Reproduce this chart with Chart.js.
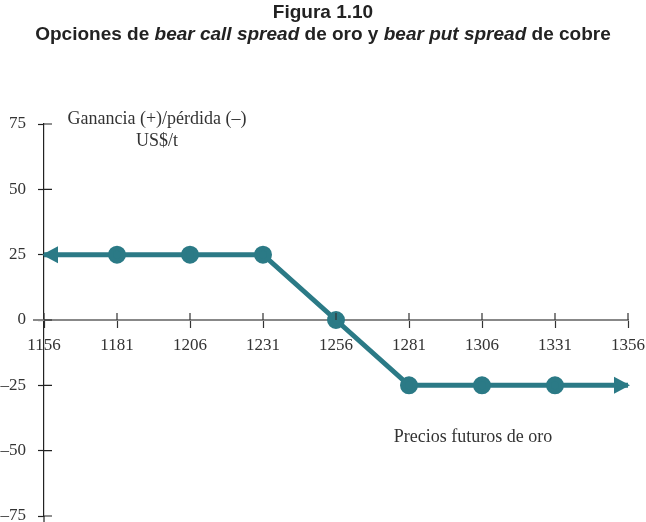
<!DOCTYPE html>
<html lang="es">
<head>
    <meta charset="UTF-8">
    <title>Figura 1.10</title>
    <script src="https://cdn.jsdelivr.net/npm/chart.js"></script>
    <style>
        body { margin: 0; background: #fff; }
        .wrap { position: relative; width: 646px; height: 522px; }
        .titulo { position: absolute; left: 0; width: 646px; text-align: center; font-family: "Liberation Sans", Arial, sans-serif; font-weight: bold; color: #222; font-size: 19px; line-height: 22px; }
        #t1 { top: 1px; }
        #t2 { top: 23px; }
        .etq { position: absolute; font-family: "Liberation Serif", "Times New Roman", serif; font-size: 18px; color: #333; text-align: center; line-height: 22px; }
        canvas { position: absolute; left: 0; top: 0; }
    </style>
</head>
<body>
<div class="wrap">
    <canvas id="grafico" width="646" height="522"></canvas>
    <div class="titulo" id="t1">Figura 1.10</div>
    <div class="titulo" id="t2">Opciones de <i>bear call spread</i> de oro y <i>bear put spread</i> de cobre</div>
    <div class="etq" style="left:47px; top:107px; width:220px;">Ganancia (+)/pérdida (–)<br>US$/t</div>
    <div class="etq" style="left:363px; top:425px; width:220px;">Precios futuros de oro</div>
</div>
<script>
    const precios = [1156, 1181, 1206, 1231, 1256, 1281, 1306, 1331, 1356];
    const ganancia = [25, 25, 25, 25, 0, -25, -25, -25, -25];
    const ticksY = [-75, -50, -25, 0, 25, 50, 75];

    const color = '#2b7a86';
    const serif = '"Liberation Serif", "Times New Roman", serif';

    // flechas en los extremos y marcas que cruzan los ejes
    const ejes = {
        id: 'ejes',
        afterDatasetsDraw(chart) {
            const c = chart.ctx;
            const x = chart.scales.x, y = chart.scales.y;
            const y0 = y.getPixelForValue(0);
            c.save();
            c.strokeStyle = '#888';
            c.lineWidth = 2;
            c.beginPath();
            c.moveTo(x.left - 11, y0);
            c.lineTo(x.left, y0);
            c.stroke();
            c.strokeStyle = '#222';
            c.lineWidth = 1.2;
            c.beginPath();
            c.moveTo(x.left, y.bottom);
            c.lineTo(x.left, 522);
            ticksY.forEach(v => {
                const p = y.getPixelForValue(v);
                c.moveTo(x.left, p);
                c.lineTo(x.left + 8, p);
            });
            c.stroke();
            c.strokeStyle = '#333';
            c.beginPath();
            precios.forEach(v => {
                const p = x.getPixelForValue(v);
                c.moveTo(p, y0);
                c.lineTo(p, y0 - 7);
            });
            c.stroke();

            const pts = chart.getDatasetMeta(0).data;
            const flecha = (pt, dir) => {
                c.beginPath();
                c.moveTo(pt.x + dir * 2, pt.y);
                c.lineTo(pt.x - dir * 14, pt.y - 8.5);
                c.lineTo(pt.x - dir * 14, pt.y + 8.5);
                c.closePath();
                c.fill();
            };
            c.fillStyle = color;
            flecha(pts[0], -1);
            flecha(pts[pts.length - 1], 1);
            c.restore();
        }
    };

    new Chart(document.getElementById('grafico'), {
        type: 'line',
        data: {
            datasets: [{
                data: precios.map((p, i) => ({ x: p, y: ganancia[i] })),
                borderColor: color,
                backgroundColor: color,
                borderWidth: 5,
                pointRadius: precios.map((p, i) => (i === 0 || i === precios.length - 1) ? 0 : 6.5),
                pointHoverRadius: 0,
                tension: 0
            }]
        },
        options: {
            responsive: false,
            animation: false,
            events: [],
            layout: { padding: { top: 124, right: 18, bottom: 6, left: 0 } },
            plugins: { legend: { display: false }, tooltip: { enabled: false } },
            scales: {
                x: {
                    type: 'linear',
                    min: 1156,
                    max: 1356,
                    position: { y: 0 },
                    afterFit: s => { s.height = 0; s.paddingLeft = 0; s.paddingRight = 0; },
                    afterBuildTicks: s => { s.ticks = precios.map(v => ({ value: v })); },
                    ticks: {
                        callback: v => String(v),
                        color: '#333',
                        font: { family: serif, size: 17 },
                        padding: 8,
                        maxRotation: 0,
                        autoSkip: false
                    },
                    grid: { drawOnChartArea: false, tickLength: 7, color: '#333', tickWidth: 1.2 },
                    border: { color: '#888', width: 2 }
                },
                y: {
                    min: -75,
                    max: 75,
                    afterFit: s => { s.width = 44; s.paddingTop = 0; s.paddingBottom = 0; },
                    afterBuildTicks: s => { s.ticks = ticksY.map(v => ({ value: v })); },
                    ticks: {
                        callback: v => v < 0 ? '–' + Math.abs(v) : String(v),
                        color: '#333',
                        font: { family: serif, size: 17 },
                        padding: 12
                    },
                    grid: { drawOnChartArea: false, tickLength: 6, color: '#222', tickWidth: 1.2 },
                    border: { color: '#222', width: 1.2 }
                }
            }
        },
        plugins: [ejes]
    });
</script>
</body>
</html>
